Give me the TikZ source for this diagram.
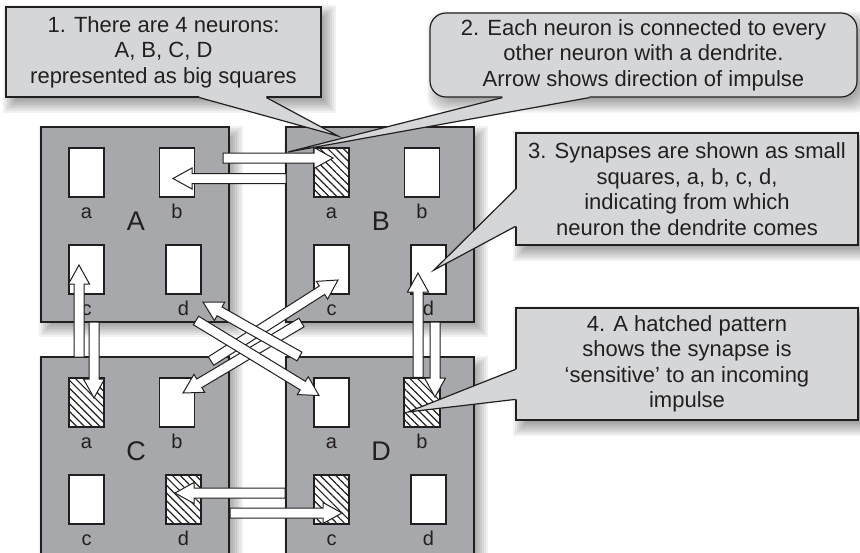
\documentclass[tikz,border=0pt]{standalone}
\usepackage{fontspec}
\setmainfont{Liberation Sans}
\usepackage{tikz}
\usetikzlibrary{positioning, calc, backgrounds, patterns.meta}
\definecolor{ink}{RGB}{35,31,32}
\definecolor{cellgray}{RGB}{167,168,171}
\definecolor{notegray}{RGB}{213,214,216}

% hollow arrow for one dendrite, tail #1, tip #2
\newcommand{\dendrite}[2]{%
  \coordinate (den-s) at (#1);
  \coordinate (den-e) at (#2);
  \coordinate (den-m) at ($(den-e)!19pt!(den-s)$);
  \draw[dendrite] ($(den-s)!5pt!90:(den-e)$) -- ($(den-m)!5pt!90:(den-e)$)
    -- ($(den-m)!10.5pt!90:(den-e)$) -- (den-e)
    -- ($(den-m)!10.5pt!-90:(den-e)$) -- ($(den-m)!5pt!-90:(den-e)$)
    -- ($(den-s)!5pt!-90:(den-e)$) -- cycle;
}

% blurred shadow under a node
\newcommand{\softshadow}[2][]{%
  \begin{scope}[on background layer]
    \foreach \e in {-8,-6,...,8}
      \fill[black, opacity=0.055, #1] ($(#2.north west)+(6,7)-(\e,\e)$) rectangle ($(#2.south east)+(6,7)+(\e,\e)$);
  \end{scope}
}

\begin{document}
\begin{tikzpicture}[x=1pt, y=-1pt,
    neuron/.style={draw=ink, fill=cellgray, line width=1.2pt, minimum width=188pt,
      minimum height=195pt, inner sep=0pt, outer sep=0pt},
    synapse/.style={draw=ink, fill=white, line width=1.2pt, minimum width=35pt,
      minimum height=49pt, inner sep=0pt},
    hatch/.style={draw=ink, line width=1.2pt, pattern color=ink,
      pattern={Lines[angle=-45, distance=5.5pt, line width=1.2pt]}},
    synlabel/.style={font=\fontsize{20}{20}\selectfont, text=ink, inner sep=0pt, anchor=base},
    bigname/.style={font=\fontsize{27}{27}\selectfont, text=ink, inner sep=0pt, anchor=base},
    dendrite/.style={draw=ink, fill=white, line width=1pt, line join=miter},
    callbox/.style={draw=ink, fill=notegray, line width=1.2pt, align=center, inner sep=0pt,
      font=\fontsize{22}{25.5}\selectfont, text=ink},
    pointer/.style={draw=ink, line width=1.2pt},
    ]

    \clip (0,0) rectangle (860,552);

    % Neurons
    \node[neuron] (A) at (135,224.5) {};
    \node[neuron] (B) [right=57pt of A] {};
    \node[neuron, minimum height=200pt] (C) [below=35pt of A] {};
    \node[neuron, minimum height=200pt] (D) [right=57pt of C] {};
    \foreach \n in {A,B,C,D} \softshadow{\n};

    % Synapses and labels
    \foreach \n in {A,B,C,D} {
      \node[synapse] (\n-a) at ($(\n.north west)+(45.5,45.5)$) {};
      \node[synapse] (\n-b) at ($(\n.north west)+(136,45.5)$) {};
      \node[synapse] (\n-c) at ($(\n.north west)+(45.5,142.5)$) {};
      \node[synapse] (\n-d) at ($(\n.north west)+(142.5,142.5)$) {};
      \foreach \s in {a,b,c,d}
        \node[synlabel] (\n-\s-txt) at ($(\n-\s.south)+(0,20.5)$) {\s};
      \node[bigname] (\n-txt) at ($(\n.north west)+(95,103)$) {\n};
    }

    % Sensitive synapses
    \foreach \s in {B-a, C-a, C-d, D-c, D-b}
      \draw[hatch] (\s.south west) rectangle (\s.north east);

    % Dendrites
    \dendrite{$(A-b)+(46,-14.5)$}{$(B-a)+(1.5,-14.5)$}
    \dendrite{$(B.west)+(0,-46)$}{$(A-b)+(-4,6)$}
    \dendrite{$(C.north west)+(38,0)$}{$(A-c)+(-7.5,-4.5)$}
    \dendrite{$(A.south west)+(53,0)$}{$(C-a)+(7.5,-4.5)$}
    \dendrite{$(D-b.north)+(-4,0)$}{$(B-d)+(-10.5,3.5)$}
    \dendrite{$(B.south west)+(149,0)$}{$(D-b)+(13,-5.5)$}
    \dendrite{$(C-d)+(46.5,13.5)$}{$(D-c)+(10.5,13.5)$}
    \dendrite{$(D-c)+(-46.5,-6.5)$}{$(C-d)+(-8.5,-6.5)$}
    \dendrite{$(C-b)+(34,-41.5)$}{$(B-c)+(6.5,10.5)$}
    \dendrite{$(B-c)+(-30,53)$}{$(C-b)+(6,-9.5)$}
    \dendrite{$(D-a)+(-32,-46)$}{$(A-d)+(19.5,32.5)$}
    \dendrite{$(A-d)+(12.5,51)$}{$(D-a)+(-12.5,-7)$}

    % Notes
    \node[callbox, minimum width=315pt, minimum height=90pt] (note1) at (163.5,52)
      {1. There are 4 neurons:\\A, B, C, D\\represented as big squares};
    \node[callbox, rounded corners=16pt, minimum width=427pt, minimum height=84pt] (note2) at (643.5,55)
      {2. Each neuron is connected to every\\other neuron with a dendrite.\\Arrow shows direction of impulse};
    \node[callbox, minimum width=342pt, minimum height=112pt] (note3) at (687,189)
      {3. Synapses are shown as small\\squares, a, b, c, d,\\indicating from which\\neuron the dendrite comes};
    \node[callbox, minimum width=342pt, minimum height=112pt] (note4) at (687,364)
      {4. A hatched pattern\\shows the synapse is\\‘sensitive’ to an incoming\\impulse};
    \softshadow{note1}
    \softshadow[rounded corners=16pt]{note2}
    \softshadow{note3}
    \softshadow{note4}

    % Note pointers
    \coordinate (tip1) at ($(B.north west)+(52,9)$);
    \coordinate (tip2) at ($(B.north west)+(2,25)$);
    \coordinate (tip3) at ($(B-d)+(5.5,0.5)$);
    \coordinate (tip4) at ($(D-b)+(-14,9.5)$);

    \fill[notegray] ($(note1.south west)+(194,-1.6)$) -- ($(note1.south west)+(194,0)$) -- (tip1)
      -- ($(note1.south west)+(261,0)$) -- ($(note1.south west)+(261,-1.6)$) -- cycle;
    \draw[pointer] ($(note1.south west)+(194,0)$) -- (tip1) -- ($(note1.south west)+(261,0)$);

    \fill[notegray] ($(note2.south west)+(73,-1.6)$) -- ($(note2.south west)+(73,0)$) -- (tip2)
      -- ($(note2.south west)+(160,0)$) -- ($(note2.south west)+(160,-1.6)$) -- cycle;
    \draw[pointer] ($(note2.south west)+(73,0)$) -- (tip2) -- ($(note2.south west)+(160,0)$);

    \fill[notegray] ($(note3.north west)+(1.6,57)$) -- ($(note3.north west)+(0,57)$) -- (tip3)
      -- ($(note3.north west)+(0,94)$) -- ($(note3.north west)+(1.6,94)$) -- cycle;
    \draw[pointer] ($(note3.north west)+(0,57)$) -- (tip3) -- ($(note3.north west)+(0,94)$);

    \fill[notegray] ($(note4.north west)+(1.6,62)$) -- ($(note4.north west)+(0,62)$) -- (tip4)
      -- ($(note4.north west)+(0,92)$) -- ($(note4.north west)+(1.6,92)$) -- cycle;
    \draw[pointer] ($(note4.north west)+(0,62)$) -- (tip4) -- ($(note4.north west)+(0,92)$);

\end{tikzpicture}
\end{document}
